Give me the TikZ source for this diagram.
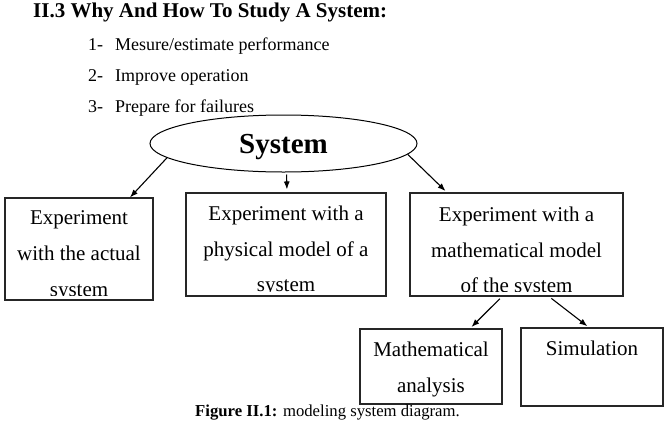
\documentclass[tikz,border=0pt]{standalone}
\usepackage{fontspec}
\setmainfont{Liberation Serif}
\usetikzlibrary{positioning,arrows.meta,shapes.geometric}

\begin{document}
\begin{tikzpicture}[
		x=1pt, y=-1pt,
		box/.style={draw=black!85, line width=1.1pt, inner sep=0pt},
		boxtext/.style={align=center, anchor=north, inner sep=0pt, font=\fontsize{21}{35.5}\selectfont},
		arrow/.style={-{Latex[length=8pt,width=6pt]}, line width=1.1pt},
		item/.style={anchor=base west, inner sep=0pt, font=\fontsize{18}{22}\selectfont}
		]
		\useasboundingbox (0,0) rectangle (670,429);
		
		% ---- heading and list ----
		\node[anchor=base west, inner sep=0pt, font=\bfseries\fontsize{21}{25}\selectfont] (title) at (33,17) {II.3 Why And How To Study A System:};
		\node[item] (n1) at (88,50) {1-};
		\node[item] (i1) at (115,50) {Mesure/estimate performance};
		\node[item] (n2) at (88,81) {2-};
		\node[item] (i2) at (115,81) {Improve operation};
		\node[item] (n3) at (88,112) {3-};
		\node[item] (i3) at (115,112) {Prepare for failures};
		
		% ---- system and the three ways ----
		\node[draw, ellipse, line width=1pt, minimum width=267pt, minimum height=57pt, inner sep=0pt, text depth=-2pt,
			font=\bfseries\fontsize{29}{33}\selectfont] (sys) at (283.5,143.5) {System};
		
		\node[box, minimum width=148pt, minimum height=102pt] (actual) at (79,249) {};
		\node[box, minimum width=200pt, minimum height=103pt] (physical) at (286,244.5) {};
		\node[box, minimum width=213pt, minimum height=103pt] (mathmodel) at (516.5,244.5) {};
		\node[box, minimum width=142pt, minimum height=75pt] (analysis) at (431,366.5) {};
		\node[box, minimum width=142pt, minimum height=78pt] (simulation) at (592,367) {};
		
		% text runs past the inner lower margin of the boxes and is cut there
		\begin{scope}
			\clip ([yshift=5.5pt]actual.south west) rectangle (actual.north east);
			\node[boxtext, font=\fontsize{21}{36}\selectfont] (actual-t) at ([yshift=-12.7pt]actual.north) {Experiment\\with the actual\\system};
		\end{scope}
		\begin{scope}
			\clip ([yshift=5.5pt]physical.south west) rectangle (physical.north east);
			\node[boxtext] (physical-t) at ([yshift=-13.7pt]physical.north) {Experiment with a\\physical model of a\\system};
		\end{scope}
		\begin{scope}
			\clip ([yshift=5.5pt]mathmodel.south west) rectangle (mathmodel.north east);
			\node[boxtext] (mathmodel-t) at ([yshift=-14.5pt]mathmodel.north) {Experiment with a\\mathematical model\\of the system};
		\end{scope}
		\node[boxtext] (analysis-t) at ([yshift=-13.5pt]analysis.north) {Mathematical\\analysis};
		\node[boxtext] (simulation-t) at ([yshift=-13.5pt]simulation.north) {Simulation};
		
		\draw[arrow] (sys.187.5) -- ([xshift=51pt]actual.north);
		\draw[arrow, shorten <=2pt, shorten >=3pt] ([xshift=3pt]sys.south) -- ([xshift=1pt]physical.north);
		\draw[arrow, shorten >=2pt] (sys.-5) -- ([xshift=-69.5pt]mathmodel.north);
		\draw[arrow, shorten <=3pt, shorten >=2pt] ([xshift=-14.5pt]mathmodel.south) -- ([xshift=39pt]analysis.north);
		\draw[arrow, shorten <=3pt, shorten >=2pt] ([xshift=32.5pt]mathmodel.south) -- ([xshift=-3pt]simulation.north);
		
		% ---- caption ----
		\node[anchor=base west, inner sep=0pt, font=\fontsize{16.7}{20}\selectfont] (caption) at (195,416) {\textbf{Figure II.1:} modeling system diagram.};
		
	\end{tikzpicture}
\end{document}
